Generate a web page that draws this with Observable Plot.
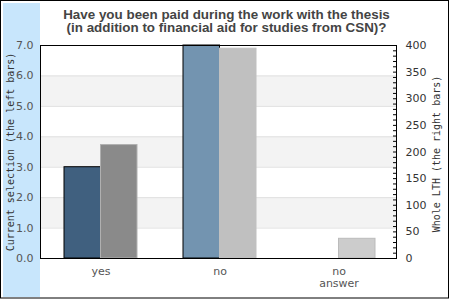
<!DOCTYPE html>
<html><head><meta charset="utf-8">
<script src="https://cdn.jsdelivr.net/npm/d3@7"></script>
<script src="https://cdn.jsdelivr.net/npm/@observablehq/plot@0.6"></script>
<style>body{margin:0;background:#fff}</style>
</head><body><div id="chart"></div>
<script>
const categories = ["yes", "no", "no answer"];
const categoryLabels = ["yes", "no", "no\nanswer"];
const currentSelection = [3.0, 7.0, 0];
const wholeLTH = [213, 394, 37];
const leftTicks = [0, 1, 2, 3, 4, 5, 6, 7];
const rightTicks = [0, 50, 100, 150, 200, 250, 300, 350, 400];
const rightMinorTicks = d3.range(0, 401, 10);
const bandPairs = [[1, 2], [3, 4], [5, 6]];
const gridLines = [1, 2, 3, 4, 5, 6];
const title = "Have you been paid during the work with the thesis\n(in addition to financial aid for studies from CSN)?";
const leftAxisTitle = "Current selection (the left bars)";
const rightAxisTitle = "Whole LTH (the right bars)";
const leftMax = 7, rightMax = 400;

// styles
const leftFill = {"yes": "#40607f", "no": "#7394b0", "no answer": "#7394b0"};
const rightFill = {"yes": "#8a8a8a", "no": "#c0c0c0", "no answer": "#cccccc"};
const rightStroke = {"yes": "#b0b0b0", "no": "#c0c0c0", "no answer": "#bbbbbb"};

const k = leftMax / rightMax;
const rows = categories.map((c, i) => ({category: c, current: currentSelection[i], whole: wholeLTH[i]}));
const labelOf = Object.fromEntries(categories.map((c, i) => [c, categoryLabels[i]]));

const plot = Plot.plot({
  width: 450, height: 300,
  marginLeft: 40, marginRight: 54, marginTop: 45, marginBottom: 42,
  style: {fontFamily: "DejaVu Sans", background: "transparent"},
  x: {domain: categories, range: [41, 398], padding: 0, axis: null},
  y: {domain: [0, leftMax], axis: null},
  marks: [
    Plot.rect(bandPairs, {y1: d => d[0], y2: d => d[1], fill: "#f3f3f3"}),
    Plot.gridY(gridLines, {stroke: "#e0e0e0", strokeOpacity: 1}),
    Plot.barY(rows.filter(d => d.current > 0), {x: "category", y: "current", fill: d => leftFill[d.category], stroke: "black", strokeWidth: 1, insetLeft: 23, insetRight: 59.5}),
    Plot.barY(rows.filter(d => d.whole > 0), {x: "category", y: d => d.whole * k, fill: d => rightFill[d.category], stroke: d => rightStroke[d.category], strokeWidth: 1, insetLeft: 59.5, insetRight: 23}),
    Plot.frame({stroke: "black"}),
    Plot.axisY({anchor: "left", ticks: leftTicks, tickSize: 0, tickPadding: 7, tickFormat: d3.format(".1f"), fontSize: 11, fill: "#555", label: null}),
    Plot.axisY({anchor: "right", ticks: rightTicks.map(v => v * k), tickSize: 0, tickPadding: 9, tickFormat: d => String(Math.round(d / k)), fontSize: 11, fill: "#333", label: null}),
    Plot.axisY({anchor: "right", ticks: rightMinorTicks.map(v => v * k), tickSize: 4, dx: -4, tickFormat: () => "", stroke: "black", label: null}),
    Plot.axisX({ticks: categories, tickSize: 0, tickPadding: 8, tickFormat: d => labelOf[d], fontSize: 11, fill: "#555", lineHeight: 1.1, label: null}),
    Plot.text([leftAxisTitle], {text: d => d, frameAnchor: "left", textAnchor: "middle", lineAnchor: "middle", dx: -30, rotate: -90, fontFamily: "DejaVu Sans Mono", fontSize: 10, fill: "#333"}),
    Plot.text([rightAxisTitle], {text: d => d, frameAnchor: "right", textAnchor: "middle", lineAnchor: "middle", dx: 40, dy: 2, rotate: -90, fontFamily: "DejaVu Sans Mono", fontSize: 10, fill: "#333"}),
    Plot.text([title], {text: d => d, frameAnchor: "top", dx: 8, dy: -36, lineAnchor: "top", lineHeight: 1, fontSize: 13.4, fontWeight: "bold", fontFamily: "Liberation Sans", fill: "#444"})
  ]
});

const svg = d3.select(plot);
svg.insert("rect", ":first-child").attr("x", 3).attr("y", 3).attr("width", 37).attr("height", 294).attr("fill", "#c8e6fc");
svg.insert("rect", ":first-child").attr("x", 0).attr("y", 0).attr("width", 450).attr("height", 300).attr("fill", "#fff");
svg.append("rect").attr("x", 0.5).attr("y", 0.5).attr("width", 448).attr("height", 297.5).attr("fill", "none").attr("stroke", "black");
document.getElementById("chart").append(plot);
</script>
</body></html>
